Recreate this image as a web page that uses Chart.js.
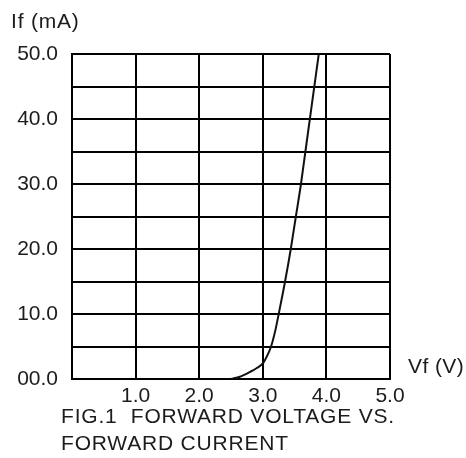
<!DOCTYPE html>
<html>
<head>
<meta charset="utf-8">
<script src="https://cdn.jsdelivr.net/npm/chart.js@4"></script>
<style>
  html, body { margin: 0; padding: 0; background: #fff; }
  #wrap { width: 466px; height: 458px; }
</style>
</head>
<body>
<div id="wrap"><canvas id="fig1"></canvas></div>
<script>
// forward voltage (V) vs forward current (mA)
let vf = [2.5, 2.64, 2.8, 2.9, 3.0, 3.07, 3.13, 3.2, 3.25, 3.35, 3.44, 3.52, 3.6, 3.67, 3.74, 3.81, 3.88]
let iF = [0, 0.35, 1.1, 1.65, 2.4, 3.6, 5, 7.6, 10, 15, 20, 25, 30, 35, 40, 45, 50]

let xTicks = ['', '1.0', '2.0', '3.0', '4.0', '5.0']
let yTicks = { 0: '00.0', 10: '10.0', 20: '20.0', 30: '30.0', 40: '40.0', 50: '50.0' }

let yTitle = 'If (mA)'
let xTitle = 'Vf (V)'
let caption = ['FIG.1  FORWARD VOLTAGE VS.', 'FORWARD CURRENT']

const font = 'Liberation Sans, Arial, sans-serif'
const ink = '#1c1c1c'

let points = vf.map((v, i) => ({ x: v, y: iF[i] }))

// axis names + caption, placed relative to the plot area
const labelsPlugin = {
    id: 'labels',
    afterDraw(chart) {
        const ctx = chart.ctx
        const a = chart.chartArea
        ctx.save()
        ctx.fillStyle = ink
        ctx.font = '21px ' + font
        ctx.letterSpacing = '0.8px'
        ctx.textBaseline = 'alphabetic'
        ctx.textAlign = 'left'
        ctx.fillText(yTitle, a.left - 61, a.top - 26)
        ctx.letterSpacing = '0.4px'
        ctx.fillText(xTitle, a.right + 18, a.bottom - 6)
        ctx.letterSpacing = '0.8px'
        ctx.fillText(caption[0], a.left - 11, a.bottom + 44)
        ctx.fillText(caption[1], a.left - 11, a.bottom + 71)
        ctx.restore()
    }
}

const ctx = document.getElementById('fig1').getContext('2d')
const chart = new Chart(ctx, {
    type: 'line',
    data: {
        datasets: [{
            data: points,
            borderColor: '#111',
            borderWidth: 2,
            pointRadius: 0,
            cubicInterpolationMode: 'monotone',
            fill: false
        }]
    },
    options: {
        responsive: true,
        maintainAspectRatio: false,
        animation: false,
        layout: { padding: { top: 54, right: 76, left: 0, bottom: 0 } },
        plugins: {
            legend: { display: false },
            tooltip: { enabled: false }
        },
        scales: {
            x: {
                type: 'linear',
                min: 0,
                max: 5,
                afterFit: s => { s.height = 79 },
                border: { color: '#000', width: 2 },
                grid: { color: '#000', lineWidth: 2, drawTicks: false },
                ticks: {
                    stepSize: 1,
                    padding: 5,
                    color: ink,
                    font: { family: font, size: 21 },
                    maxRotation: 0,
                    callback: v => xTicks[v]
                }
            },
            y: {
                min: 0,
                max: 50,
                afterFit: s => { s.width = 72 },
                border: { color: '#000', width: 2 },
                grid: { color: '#000', lineWidth: 2, drawTicks: false },
                ticks: {
                    stepSize: 5,
                    padding: 14,
                    color: ink,
                    font: { family: font, size: 21 },
                    autoSkip: false,
                    callback: v => (yTicks[v] !== undefined ? yTicks[v] : '')
                }
            }
        }
    },
    plugins: [labelsPlugin]
})
</script>
</body>
</html>
